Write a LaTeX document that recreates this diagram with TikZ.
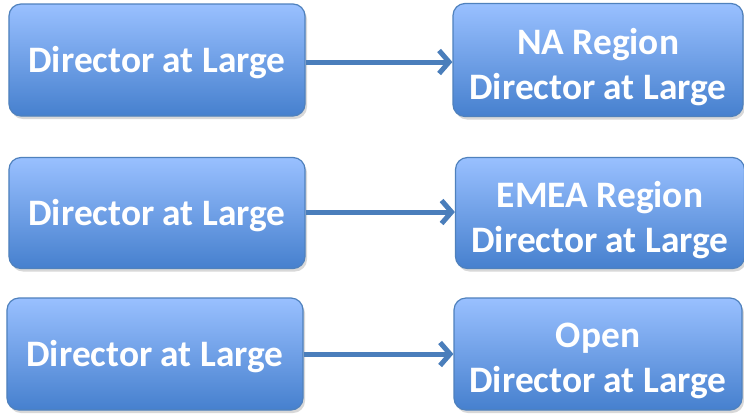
\documentclass[tikz,border=0pt]{standalone}
\usepackage{fontspec}
\setmainfont{Carlito}
\usetikzlibrary{arrows.meta,shadows,positioning}
\definecolor{boxtop}{RGB}{153,192,255}
\definecolor{boxbot}{RGB}{70,128,206}
\definecolor{boxedge}{RGB}{79,129,189}
\definecolor{arrowc}{RGB}{74,126,187}
\tikzset{
  rbox/.style={rounded corners=12bp, draw=boxedge, line width=1.2bp,
    top color=boxtop, bottom color=boxbot,
    drop shadow={shadow xshift=2bp, shadow yshift=-3bp, opacity=0.25, fill=black!60},
    inner sep=0pt},
  lbl/.style={text=white, font=\bfseries\fontsize{37.5}{45}\selectfont, align=center, inner sep=0pt},
  conn/.style={draw=arrowc, line width=5bp, -{Straight Barb[length=10bp,width=23bp,line width=5bp]}}
}
\begin{document}
\begin{tikzpicture}[x=1bp,y=-1bp]
\useasboundingbox (0,0) rectangle (744,415);
\fill[white] (0,0) rectangle (744,415);
% left boxes
\node[rbox, minimum width=296bp, minimum height=112bp] (l1) at (157,60) {};
\node[rbox, minimum width=296bp, minimum height=111bp] (l2) at (157,213) {};
\node[rbox, minimum width=296bp, minimum height=112bp] (l3) at (155,354) {};
% right boxes
\node[rbox, minimum width=290bp, minimum height=113bp] (r1) at (598,60) {};
\node[rbox, minimum width=289bp, minimum height=111bp] (r2) at (600,213) {};
\node[rbox, minimum width=288bp, minimum height=112bp] (r3) at (598,354) {};
% labels
\node[lbl] (l1t) at ([yshift=-3bp]l1.center) {Director at Large};
\node[lbl] (l2t) at ([yshift=-3bp]l2.center) {Director at Large};
\node[lbl] (l3t) at ([yshift=-3bp]l3.center) {Director at Large};
\node[lbl] (r1t) at ([yshift=-7bp]r1.center) {NA Region\\Director at Large};
\node[lbl] (r2t) at ([yshift=-7bp]r2.center) {EMEA Region\\Director at Large};
\node[lbl] (r3t) at ([yshift=-7bp]r3.center) {Open\\Director at Large};
% connectors
\draw[conn] (l1.east |- 0,62) -- (r1.west |- 0,62);
\draw[conn] (l2.east |- 0,212) -- (r2.west |- 0,212);
\draw[conn] (l3.east |- 0,354) -- (r3.west |- 0,354);
\end{tikzpicture}
\end{document}
